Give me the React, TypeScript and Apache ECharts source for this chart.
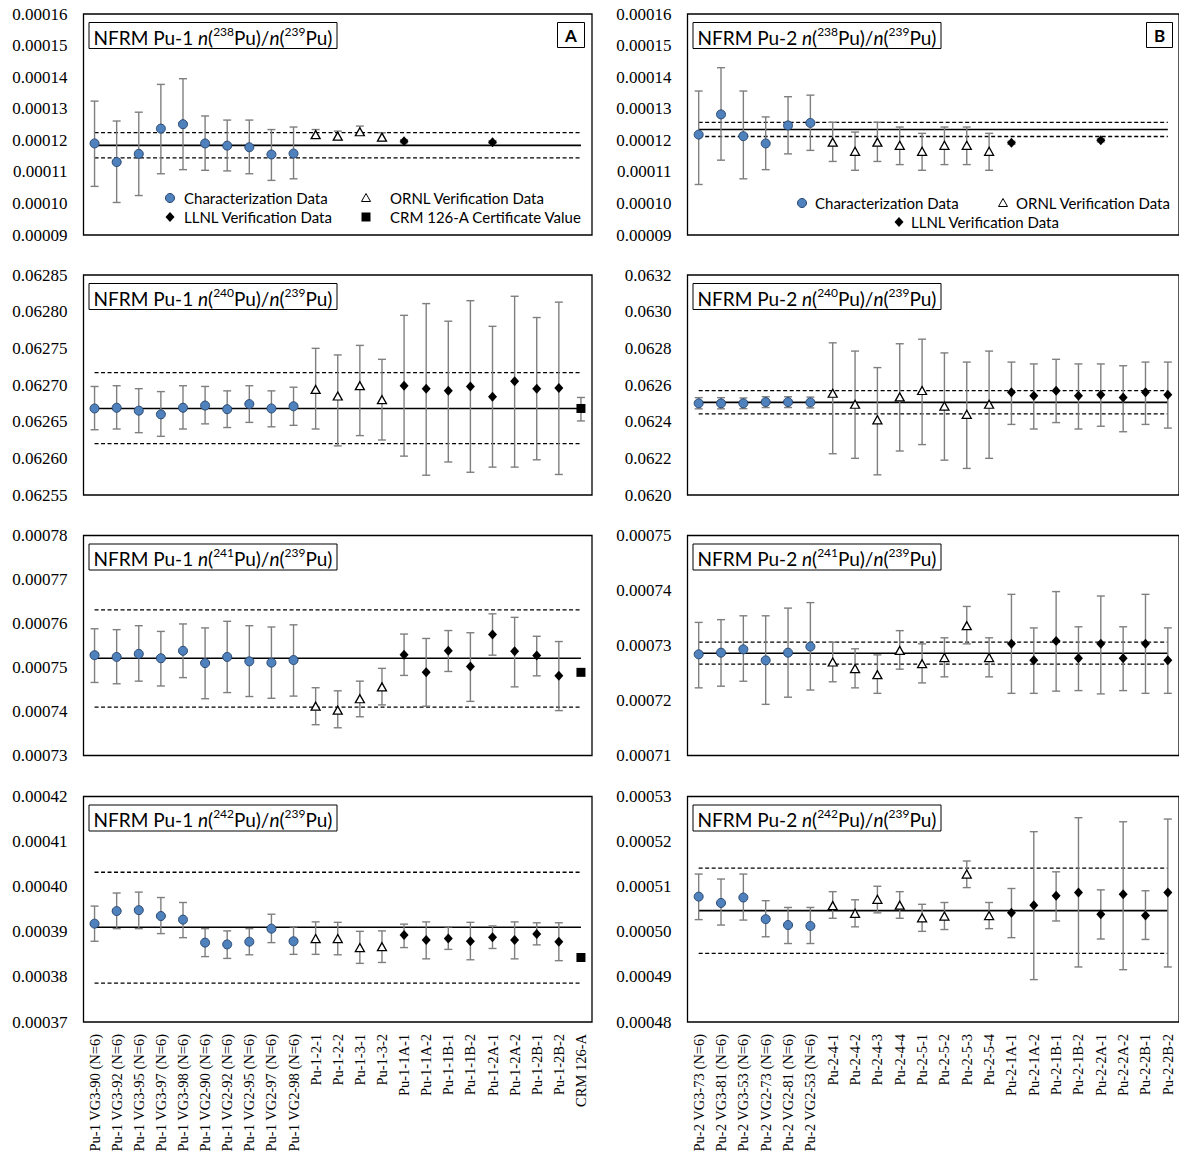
import React, { useEffect, useRef } from 'react';
import * as echarts from 'echarts';

// ---------- categories ----------
const LEFT_CATS = [
  'Pu-1 VG3-90 (N=6)', 'Pu-1 VG3-92 (N=6)', 'Pu-1 VG3-95 (N=6)', 'Pu-1 VG3-97 (N=6)', 'Pu-1 VG3-98 (N=6)',
  'Pu-1 VG2-90 (N=6)', 'Pu-1 VG2-92 (N=6)', 'Pu-1 VG2-95 (N=6)', 'Pu-1 VG2-97 (N=6)', 'Pu-1 VG2-98 (N=6)',
  'Pu-1-2-1', 'Pu-1-2-2', 'Pu-1-3-1', 'Pu-1-3-2',
  'Pu-1-1A-1', 'Pu-1-1A-2', 'Pu-1-1B-1', 'Pu-1-1B-2', 'Pu-1-2A-1', 'Pu-1-2A-2', 'Pu-1-2B-1', 'Pu-1-2B-2',
  'CRM 126-A',
];
const RIGHT_CATS = [
  'Pu-2 VG3-73 (N=6)', 'Pu-2 VG3-81 (N=6)', 'Pu-2 VG3-53 (N=6)', 'Pu-2 VG2-73 (N=6)', 'Pu-2 VG2-81 (N=6)', 'Pu-2 VG2-53 (N=6)',
  'Pu-2-4-1', 'Pu-2-4-2', 'Pu-2-4-3', 'Pu-2-4-4', 'Pu-2-5-1', 'Pu-2-5-2', 'Pu-2-5-3', 'Pu-2-5-4',
  'Pu-2-1A-1', 'Pu-2-1A-2', 'Pu-2-1B-1', 'Pu-2-1B-2', 'Pu-2-2A-1', 'Pu-2-2A-2', 'Pu-2-2B-1', 'Pu-2-2B-2',
];

// each point: [value, lower error limit, upper error limit]
// reference lines: [mean, lower bound, upper bound]

// ---------- n(238Pu)/n(239Pu) ----------
const PU1_238_CHAR = [
  [0.0001190, 0.0001054, 0.0001324], [0.0001131, 0.0001003, 0.0001261], [0.0001157, 0.0001025, 0.0001289],
  [0.0001237, 0.0001094, 0.0001377], [0.0001251, 0.0001107, 0.0001395], [0.0001190, 0.0001105, 0.0001277],
  [0.0001183, 0.0001103, 0.0001264], [0.0001178, 0.0001094, 0.0001264], [0.0001155, 0.0001073, 0.0001234],
  [0.0001158, 0.0001078, 0.0001242],
];
const PU1_238_ORNL = [
  [0.0001218, 0.0001208, 0.0001234], [0.0001213, 0.0001202, 0.0001229],
  [0.0001227, 0.0001216, 0.0001245], [0.0001210, 0.0001198, 0.0001224],
];
const PU1_238_LLNL = [
  [0.0001197, 0.0001192, 0.0001202], null, null, null, [0.0001194, 0.0001189, 0.0001199], null, null, null,
];
const PU1_238_REF = [0.0001184, 0.0001144, 0.0001224];

const PU2_238_CHAR = [
  [0.0001218, 0.0001060, 0.0001356], [0.0001282, 0.0001137, 0.0001430], [0.0001213, 0.0001078, 0.0001356],
  [0.0001190, 0.0001107, 0.0001274], [0.0001247, 0.0001157, 0.0001338], [0.0001255, 0.0001168, 0.0001343],
];
const PU2_238_ORNL = [
  [0.0001194, 0.0001133, 0.0001257], [0.0001165, 0.0001105, 0.0001226], [0.0001194, 0.0001133, 0.0001257],
  [0.0001184, 0.0001123, 0.0001242], [0.0001165, 0.0001105, 0.0001222], [0.0001184, 0.0001123, 0.0001242],
  [0.0001184, 0.0001123, 0.0001242], [0.0001165, 0.0001105, 0.0001222],
];
const PU2_238_LLNL = [
  [0.0001192, 0.0001187, 0.0001197], null, null, null, [0.0001200, 0.0001195, 0.0001205], null, null, null,
];
const PU2_238_REF = [0.0001234, 0.0001212, 0.0001257];

// ---------- n(240Pu)/n(239Pu) ----------
const PU1_240_CHAR = [
  [0.062668, 0.062639, 0.062698], [0.062669, 0.062640, 0.062699], [0.062665, 0.062635, 0.062695],
  [0.062660, 0.062630, 0.062691], [0.062669, 0.062640, 0.062699], [0.062672, 0.062647, 0.062698],
  [0.062667, 0.062642, 0.062692], [0.062674, 0.062649, 0.062699], [0.062668, 0.062643, 0.062692],
  [0.062671, 0.062645, 0.062697],
];
const PU1_240_ORNL = [
  [0.062694, 0.062640, 0.062750], [0.062685, 0.062617, 0.062741],
  [0.062699, 0.062631, 0.062754], [0.062680, 0.062625, 0.062735],
];
const PU1_240_LLNL = [
  [0.062699, 0.062603, 0.062795], [0.062695, 0.062577, 0.062811], [0.062692, 0.062595, 0.062787],
  [0.062698, 0.062581, 0.062815], [0.062684, 0.062588, 0.062780], [0.062705, 0.062588, 0.062821],
  [0.062695, 0.062598, 0.062792], [0.062696, 0.062578, 0.062813],
];
const PU1_240_CRM = [[0.062668, 0.062651, 0.062683]];
const PU1_240_REF = [0.062668, 0.062620, 0.062717];

const PU2_240_CHAR = [
  [0.062500, 0.062470, 0.062531], [0.062500, 0.062470, 0.062531], [0.062500, 0.062471, 0.062529],
  [0.062507, 0.062477, 0.062536], [0.062507, 0.062477, 0.062536], [0.062505, 0.062475, 0.062534],
];
const PU2_240_ORNL = [
  [0.062555, 0.062225, 0.062830], [0.062495, 0.062200, 0.062785], [0.062410, 0.062110, 0.062695],
  [0.062535, 0.062240, 0.062825], [0.062570, 0.062275, 0.062850], [0.062485, 0.062190, 0.062775],
  [0.062440, 0.062145, 0.062725], [0.062495, 0.062200, 0.062785],
];
const PU2_240_LLNL = [
  [0.062560, 0.062385, 0.062725], [0.062541, 0.062360, 0.062715], [0.062569, 0.062395, 0.062740],
  [0.062541, 0.062360, 0.062715], [0.062547, 0.062375, 0.062715], [0.062532, 0.062345, 0.062705],
  [0.062560, 0.062385, 0.062725], [0.062547, 0.062365, 0.062725],
];
const PU2_240_REF = [0.062505, 0.062442, 0.062569];

// ---------- n(241Pu)/n(239Pu) ----------
const PU1_241_CHAR = [
  [0.0007528, 0.0007466, 0.0007588], [0.0007524, 0.0007463, 0.0007586], [0.0007531, 0.0007469, 0.0007595],
  [0.0007521, 0.0007458, 0.0007582], [0.0007538, 0.0007477, 0.0007599], [0.0007510, 0.0007429, 0.0007590],
  [0.0007524, 0.0007443, 0.0007605], [0.0007514, 0.0007434, 0.0007595], [0.0007511, 0.0007430, 0.0007592],
  [0.0007517, 0.0007435, 0.0007597],
];
const PU1_241_ORNL = [
  [0.0007412, 0.0007370, 0.0007454], [0.0007403, 0.0007363, 0.0007447],
  [0.0007429, 0.0007388, 0.0007469], [0.0007456, 0.0007415, 0.0007498],
];
const PU1_241_LLNL = [
  [0.0007529, 0.0007482, 0.0007576], [0.0007489, 0.0007412, 0.0007566], [0.0007538, 0.0007491, 0.0007584],
  [0.0007502, 0.0007423, 0.0007579], [0.0007575, 0.0007528, 0.0007622], [0.0007537, 0.0007456, 0.0007614],
  [0.0007527, 0.0007481, 0.0007571], [0.0007481, 0.0007402, 0.0007559],
];
const PU1_241_CRM = [[0.0007489, null, null]];
const PU1_241_REF = [0.0007521, 0.0007410, 0.0007631];

const PU2_241_CHAR = [
  [0.0007284, 0.0007223, 0.0007342], [0.0007287, 0.0007226, 0.0007347], [0.0007293, 0.0007235, 0.0007354],
  [0.0007273, 0.0007193, 0.0007354], [0.0007287, 0.0007206, 0.0007368], [0.0007298, 0.0007219, 0.0007378],
];
const PU2_241_ORNL = [
  [0.0007270, 0.0007234, 0.0007306], [0.0007258, 0.0007223, 0.0007294], [0.0007247, 0.0007213, 0.0007283],
  [0.0007291, 0.0007257, 0.0007327], [0.0007267, 0.0007232, 0.0007303], [0.0007278, 0.0007243, 0.0007314],
  [0.0007336, 0.0007303, 0.0007371], [0.0007278, 0.0007243, 0.0007314],
];
const PU2_241_LLNL = [
  [0.0007303, 0.0007213, 0.0007393], [0.0007273, 0.0007213, 0.0007332], [0.0007308, 0.0007217, 0.0007398],
  [0.0007277, 0.0007218, 0.0007334], [0.0007303, 0.0007212, 0.0007390], [0.0007277, 0.0007218, 0.0007334],
  [0.0007303, 0.0007213, 0.0007393], [0.0007273, 0.0007213, 0.0007332],
];
const PU2_241_REF = [0.0007286, 0.0007266, 0.0007306];

// ---------- n(242Pu)/n(239Pu) ----------
const PU1_242_CHAR = [
  [0.0003918, 0.0003879, 0.0003957], [0.0003946, 0.0003907, 0.0003986], [0.0003948, 0.0003907, 0.0003988],
  [0.0003935, 0.0003896, 0.0003976], [0.0003927, 0.0003887, 0.0003965], [0.0003876, 0.0003845, 0.0003907],
  [0.0003872, 0.0003841, 0.0003902], [0.0003878, 0.0003849, 0.0003907], [0.0003907, 0.0003876, 0.0003939],
  [0.0003879, 0.0003850, 0.0003911],
];
const PU1_242_ORNL = [
  [0.0003885, 0.0003850, 0.0003922], [0.0003885, 0.0003849, 0.0003921],
  [0.0003865, 0.0003830, 0.0003901], [0.0003867, 0.0003832, 0.0003902],
];
const PU1_242_LLNL = [
  [0.0003893, 0.0003865, 0.0003917], [0.0003882, 0.0003840, 0.0003922], [0.0003885, 0.0003861, 0.0003911],
  [0.0003879, 0.0003838, 0.0003921], [0.0003888, 0.0003863, 0.0003913], [0.0003882, 0.0003840, 0.0003922],
  [0.0003895, 0.0003871, 0.0003920], [0.0003878, 0.0003836, 0.0003920],
];
const PU1_242_CRM = [[0.0003843, null, null]];
const PU1_242_REF = [0.0003910, 0.0003786, 0.0004032];

const PU2_242_CHAR = [
  [0.0005078, 0.0005027, 0.0005128], [0.0005064, 0.0005015, 0.0005117], [0.0005076, 0.0005026, 0.0005128],
  [0.0005028, 0.0004989, 0.0005069], [0.0005015, 0.0004974, 0.0005054], [0.0005013, 0.0004974, 0.0005054],
];
const PU2_242_ORNL = [
  [0.0005058, 0.0005030, 0.0005089], [0.0005041, 0.0005011, 0.0005071], [0.0005072, 0.0005042, 0.0005101],
  [0.0005059, 0.0005030, 0.0005089], [0.0005031, 0.0005001, 0.0005061], [0.0005035, 0.0005005, 0.0005065],
  [0.0005128, 0.0005098, 0.0005157], [0.0005036, 0.0005007, 0.0005065],
];
const PU2_242_LLNL = [
  [0.0005042, 0.0004987, 0.0005096], [0.0005059, 0.0004894, 0.0005222], [0.0005080, 0.0005024, 0.0005133],
  [0.0005087, 0.0004922, 0.0005253], [0.0005039, 0.0004984, 0.0005093], [0.0005083, 0.0004916, 0.0005244],
  [0.0005036, 0.0004983, 0.0005091], [0.0005087, 0.0004922, 0.0005250],
];
const PU2_242_REF = [0.0005047, 0.0004952, 0.0005141];

// y axis ranges: [min, max, interval, decimals]
const Y_RANGES = [
  [0.00009, 0.00016, 0.00001, 5], [0.00009, 0.00016, 0.00001, 5],
  [0.06255, 0.06285, 0.00005, 5], [0.0620, 0.0632, 0.0002, 4],
  [0.00073, 0.00078, 0.00001, 5], [0.00071, 0.00075, 0.00001, 5],
  [0.00037, 0.00042, 0.00001, 5], [0.00048, 0.00053, 0.00001, 5],
];
const ISOTOPES = ['238', '240', '241', '242'];
const LEGEND_LABELS = ['Characterization Data', 'ORNL Verification Data', 'LLNL Verification Data', 'CRM 126-A Certificate Value'];

// ---------- layout ----------
const W = 1179;
const H = 1157;
const ROW_TOP = [14, 275, 535.5, 796.5];
const ROW_H = [221, 220, 220, 225.5];
const COL_LEFT = [83.5, 687.5];
const COL_W = [508.5, 497];
const SERIF = "'Liberation Serif', 'Times New Roman', Times, serif";
const SANS = "Lato, 'Open Sans', sans-serif";

const PANELS = [
  { char: PU1_238_CHAR, ornl: PU1_238_ORNL, llnl: PU1_238_LLNL, crm: null, ref: PU1_238_REF },
  { char: PU2_238_CHAR, ornl: PU2_238_ORNL, llnl: PU2_238_LLNL, crm: null, ref: PU2_238_REF },
  { char: PU1_240_CHAR, ornl: PU1_240_ORNL, llnl: PU1_240_LLNL, crm: PU1_240_CRM, ref: PU1_240_REF },
  { char: PU2_240_CHAR, ornl: PU2_240_ORNL, llnl: PU2_240_LLNL, crm: null, ref: PU2_240_REF },
  { char: PU1_241_CHAR, ornl: PU1_241_ORNL, llnl: PU1_241_LLNL, crm: PU1_241_CRM, ref: PU1_241_REF },
  { char: PU2_241_CHAR, ornl: PU2_241_ORNL, llnl: PU2_241_LLNL, crm: null, ref: PU2_241_REF },
  { char: PU1_242_CHAR, ornl: PU1_242_ORNL, llnl: PU1_242_LLNL, crm: PU1_242_CRM, ref: PU1_242_REF },
  { char: PU2_242_CHAR, ornl: PU2_242_ORNL, llnl: PU2_242_LLNL, crm: null, ref: PU2_242_REF },
];

const errRender = (params: any, api: any) => {
  const x = api.value(0);
  const lo = api.coord([x, api.value(1)]);
  const hi = api.coord([x, api.value(2)]);
  const cw = 4;
  const st = { stroke: '#7f7f7f', lineWidth: 1.4 };
  return {
    type: 'group',
    children: [
      { type: 'line', shape: { x1: lo[0], y1: lo[1], x2: hi[0], y2: hi[1] }, style: st },
      { type: 'line', shape: { x1: lo[0] - cw, y1: lo[1], x2: lo[0] + cw, y2: lo[1] }, style: st },
      { type: 'line', shape: { x1: hi[0] - cw, y1: hi[1], x2: hi[0] + cw, y2: hi[1] }, style: st },
    ],
  };
};

function toPts(arr: any[] | null, start: number) {
  const out: { idx: number; v: number; lo: number | null; hi: number | null }[] = [];
  if (!arr) return out;
  arr.forEach((p, i) => {
    if (p) out.push({ idx: start + i, v: p[0], lo: p[1], hi: p[2] });
  });
  return out;
}

function buildOption() {
  const grid: any[] = [];
  const xAxis: any[] = [];
  const yAxis: any[] = [];
  const series: any[] = [];
  const title: any[] = [];
  const graphic: any[] = [];

  PANELS.forEach((p, k) => {
    const col = k % 2;
    const row = Math.floor(k / 2);
    const cats = col === 0 ? LEFT_CATS : RIGHT_CATS;
    const n = cats.length;
    const [ymin, ymax, step, dec] = Y_RANGES[k];
    const bottom = row === 3;

    grid.push({
      left: COL_LEFT[col], top: ROW_TOP[row], width: COL_W[col], height: ROW_H[row],
      show: true, borderColor: '#000', borderWidth: 1.3, backgroundColor: 'transparent',
    });
    xAxis.push({
      type: 'category', gridIndex: k, data: cats, boundaryGap: true,
      axisLine: { show: false }, axisTick: { show: false }, splitLine: { show: false },
      axisLabel: {
        show: bottom, rotate: 90, interval: 0, margin: 12,
        fontFamily: SERIF, fontSize: 14.5, color: '#000',
      },
    });
    yAxis.push({
      type: 'value', gridIndex: k, min: ymin, max: ymax, interval: step,
      axisLine: { show: false }, axisTick: { show: false }, splitLine: { show: false },
      axisLabel: {
        margin: 16, fontFamily: SERIF, fontSize: 17, color: '#000',
        formatter: (v: number) => v.toFixed(dec as number),
      },
    });

    const ornlStart = col === 0 ? 10 : 6;
    const chars = toPts(p.char, 0);
    const ornls = toPts(p.ornl, ornlStart);
    const llnls = toPts(p.llnl, 14);
    const crms = toPts(p.crm, 22);
    const all = [...chars, ...ornls, ...llnls, ...crms];

    // reference lines
    p.ref.forEach((val, i) => {
      series.push({
        type: 'line', xAxisIndex: k, yAxisIndex: k, silent: true, z: 1,
        data: [[0, val], [n - 1, val]], symbol: 'none',
        lineStyle: { color: '#000', width: i === 0 ? 1.6 : 1.3, type: i === 0 ? 'solid' : [4, 2.5] },
      });
    });

    // error bars
    series.push({
      type: 'custom', xAxisIndex: k, yAxisIndex: k, silent: true, z: 2,
      renderItem: errRender, encode: { x: 0, y: [1, 2] },
      data: all.filter((d) => d.lo != null && d.hi != null).map((d) => [d.idx, d.lo, d.hi]),
    });

    series.push({
      name: LEGEND_LABELS[0], type: 'scatter', xAxisIndex: k, yAxisIndex: k, z: 5,
      symbol: 'circle', symbolSize: 9,
      itemStyle: { color: '#4F81BD', borderColor: '#2A4870', borderWidth: 1, opacity: 1 },
      data: chars.map((d) => [d.idx, d.v]),
    });
    series.push({
      name: LEGEND_LABELS[1], type: 'scatter', xAxisIndex: k, yAxisIndex: k, z: 5,
      symbol: 'triangle', symbolSize: [9, 8],
      itemStyle: { color: '#fff', borderColor: '#000', borderWidth: 1.3, opacity: 1 },
      data: ornls.map((d) => [d.idx, d.v]),
    });
    series.push({
      name: LEGEND_LABELS[2], type: 'scatter', xAxisIndex: k, yAxisIndex: k, z: 5,
      symbol: 'diamond', symbolSize: [9, 10],
      itemStyle: { color: '#000', opacity: 1 },
      data: llnls.map((d) => [d.idx, d.v]),
    });
    if (crms.length) {
      series.push({
        name: LEGEND_LABELS[3], type: 'scatter', xAxisIndex: k, yAxisIndex: k, z: 5,
        symbol: 'rect', symbolSize: 9,
        itemStyle: { color: '#000', opacity: 1 },
        data: crms.map((d) => [d.idx, d.v]),
      });
    }

    // boxed title
    const pu = col === 0 ? 'Pu-1' : 'Pu-2';
    title.push({
      text: `{r|NFRM ${pu} }{i|n}{r|(}{s|${ISOTOPES[row]}}{r|Pu)/}{i|n}{r|(}{s|239}{r|Pu)}`,
      left: COL_LEFT[col] + 5, top: ROW_TOP[row] + 8,
      padding: [3, 5, 2, 5], borderColor: '#000', borderWidth: 1, backgroundColor: '#fff',
      textStyle: {
        fontWeight: 'normal',
        rich: {
          r: { fontFamily: SANS, fontSize: 19, fontWeight: 'normal', color: '#000', lineHeight: 24 },
          i: { fontFamily: SANS, fontSize: 19, fontWeight: 'normal', color: '#000', lineHeight: 24, fontStyle: 'italic' },
          s: { fontFamily: SANS, fontSize: 12, fontWeight: 'normal', color: '#000', lineHeight: 13, verticalAlign: 'top' },
        },
      },
    });
  });

  // panel letters
  title.push({
    text: 'A', left: 557, top: 22, padding: [5, 8, 4, 8], borderColor: '#000', borderWidth: 1,
    textStyle: { fontFamily: SANS, fontSize: 17, fontWeight: 'bold', color: '#000' },
  });
  title.push({
    text: 'B', left: 1146, top: 22, padding: [5, 8, 4, 8], borderColor: '#000', borderWidth: 1,
    textStyle: { fontFamily: SANS, fontSize: 17, fontWeight: 'bold', color: '#000' },
  });

  // legends
  const txt = (x: number, y: number, t: string) => ({
    type: 'text', x, y,
    style: { text: t, fontFamily: SANS, fontSize: 15, fill: '#000', verticalAlign: 'middle', align: 'left' },
  });
  const circ = (cx: number, cy: number) => ({
    type: 'circle', shape: { cx, cy, r: 4.5 }, style: { fill: '#4F81BD', stroke: '#2A4870', lineWidth: 1 },
  });
  const tri = (cx: number, cy: number) => ({
    type: 'polygon', shape: { points: [[cx, cy - 4.5], [cx + 4.5, cy + 3.5], [cx - 4.5, cy + 3.5]] },
    style: { fill: '#fff', stroke: '#000', lineWidth: 1 },
  });
  const dia = (cx: number, cy: number) => ({
    type: 'polygon', shape: { points: [[cx, cy - 5], [cx + 4.5, cy], [cx, cy + 5], [cx - 4.5, cy]] },
    style: { fill: '#000' },
  });
  const sq = (cx: number, cy: number) => ({
    type: 'rect', shape: { x: cx - 4.5, y: cy - 4.5, width: 9, height: 9 }, style: { fill: '#000' },
  });
  graphic.push(
    circ(170, 198), txt(184, 198, LEGEND_LABELS[0]),
    tri(366, 198), txt(390, 198, LEGEND_LABELS[1]),
    dia(170, 217), txt(184, 217, LEGEND_LABELS[2]),
    sq(366, 217), txt(390, 217, LEGEND_LABELS[3]),
    circ(802, 203), txt(815, 203, LEGEND_LABELS[0]),
    tri(1003, 203), txt(1016, 203, LEGEND_LABELS[1]),
    dia(899, 222), txt(911, 222, LEGEND_LABELS[2]),
  );

  return {
    animation: false,
    backgroundColor: '#fff',
    title, grid, xAxis, yAxis, series, graphic,
  };
}

export default function App() {
  const ref = useRef<HTMLDivElement>(null);
  useEffect(() => {
    const chart = echarts.init(ref.current!, null, { renderer: 'svg' });
    chart.setOption(buildOption() as any);
    return () => chart.dispose();
  }, []);
  return (
    <div
      ref={ref}
      style={{ position: 'absolute', left: 0, top: 0, width: W, height: H, background: '#fff' }}
    />
  );
}
